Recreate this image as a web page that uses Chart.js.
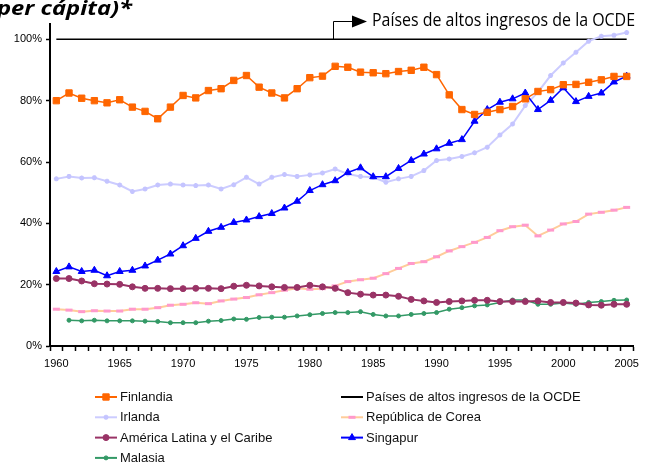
<!DOCTYPE html>
<html>
<head>
<meta charset="utf-8">
<script src="https://cdn.jsdelivr.net/npm/chart.js@4.4.1/dist/chart.umd.min.js"></script>
<style>
html, body { margin: 0; padding: 0; background: #fff; }
#wrap { width: 640px; height: 464px; }
</style>
</head>
<body>
<div id="wrap"><canvas id="grafica"></canvas></div>
<script>
// Grafica de lineas: ingreso relativo (% per capita)
var years = ['1960', '1961', '1962', '1963', '1964', '1965', '1966', '1967', '1968', '1969',
             '1970', '1971', '1972', '1973', '1974', '1975', '1976', '1977', '1978', '1979',
             '1980', '1981', '1982', '1983', '1984', '1985', '1986', '1987', '1988', '1989',
             '1990', '1991', '1992', '1993', '1994', '1995', '1996', '1997', '1998', '1999',
             '2000', '2001', '2002', '2003', '2004', '2005'];
var yearLabels = ['1960', '1965', '1970', '1975', '1980', '1985', '1990', '1995', '2000', '2005'];
var yTicks = [0, 20, 40, 60, 80, 100];

var finlandia = [80, 82.5, 80.8, 80, 79.3, 80.3, 77.9, 76.5, 74.1, 77.9,
                 81.7, 80.9, 83.3, 83.9, 86.6, 88.2, 84.4, 82.5, 80.9, 83.9,
                 87.5, 88.0, 91.2, 90.9, 89.3, 89.1, 88.8, 89.5, 89.9, 90.9,
                 88.5, 81.9, 77.1, 75.5, 76.2, 77.1, 78.1, 80.6, 83.0, 83.6,
                 85.2, 85.3, 86.0, 86.8, 87.9, 87.9];
var ocde = [100, 100, 100, 100, 100, 100, 100, 100, 100, 100,
            100, 100, 100, 100, 100, 100, 100, 100, 100, 100,
            100, 100, 100, 100, 100, 100, 100, 100, 100, 100,
            100, 100, 100, 100, 100, 100, 100, 100, 100, 100,
            100, 100, 100, 100, 100, 100];
var irlanda = [54.5, 55.3, 54.8, 54.9, 53.7, 52.5, 50.4, 51.2, 52.5, 52.8,
               52.5, 52.3, 52.5, 51.2, 52.6, 55.0, 52.8, 55.0, 55.9, 55.3,
               55.8, 56.4, 57.7, 56.1, 55.3, 55.0, 53.4, 54.5, 55.3, 57.2,
               60.5, 61.0, 61.8, 63.0, 64.8, 68.8, 72.4, 78.4, 82.8, 88.2,
               92.3, 95.8, 99.4, 101.0, 101.3, 102.2];
var corea = [12.0, 11.7, 11.2, 11.5, 11.4, 11.4, 12.0, 12.0, 12.5, 13.3,
             13.6, 14.1, 13.8, 14.7, 15.3, 15.8, 16.7, 17.4, 18.2, 18.8,
             18.5, 18.7, 19.6, 21.0, 21.6, 22.1, 23.6, 25.3, 26.9, 27.5,
             29.1, 31.0, 32.4, 33.8, 35.4, 37.6, 38.9, 39.4, 35.9, 37.8,
             39.8, 40.6, 43.0, 43.6, 44.3, 45.2];
var latam = [22.0, 22.0, 21.2, 20.3, 20.2, 20.1, 19.3, 18.8, 18.8, 18.7,
             18.7, 18.8, 18.8, 18.7, 19.5, 19.8, 19.6, 19.3, 19.1, 19.1,
             19.8, 19.3, 18.8, 17.4, 16.9, 16.6, 16.6, 16.2, 15.2, 14.7,
             14.2, 14.5, 14.7, 14.9, 14.9, 14.5, 14.5, 14.5, 14.7, 14.2,
             14.2, 14.0, 13.4, 13.3, 13.6, 13.6];
var singapur = [24.3, 25.8, 24.3, 24.7, 22.9, 24.3, 24.7, 26.1, 28.0, 30.0,
                32.7, 35.1, 37.4, 38.7, 40.3, 41.1, 42.2, 43.2, 45.0, 47.2,
                50.7, 52.6, 53.9, 56.6, 58.1, 55.2, 55.2, 57.9, 60.5, 62.6,
                64.3, 66.1, 67.3, 73.3, 77.1, 79.5, 80.6, 82.5, 77.1, 80.1,
                84.2, 79.7, 81.4, 82.5, 86.1, 88.0];
var malasia = [null, 8.4, 8.2, 8.4, 8.2, 8.2, 8.2, 8.1, 8.0, 7.6,
               7.6, 7.6, 8.1, 8.3, 8.8, 8.7, 9.3, 9.4, 9.4, 9.8,
               10.2, 10.6, 10.9, 10.9, 11.2, 10.3, 9.8, 9.8, 10.3, 10.6,
               10.9, 12.0, 12.5, 13.1, 13.4, 14.2, 15.0, 15.0, 13.6, 13.6,
               14.0, 13.6, 14.2, 14.5, 14.9, 15.0];

var legendLeft = ['Finlandia', 'Irlanda', 'América Latina y el Caribe', 'Malasia'];
var legendRight = ['Países de altos ingresos de la OCDE', 'República de Corea', 'Singapur'];

var fuente = '"Liberation Sans", Arial, sans-serif';
Chart.defaults.font.family = fuente;
Chart.defaults.color = '#000';

function textoAjustado(ctx, text, font, x, y, w) {
    ctx.save();
    ctx.font = font;
    ctx.fillStyle = '#000';
    ctx.textBaseline = 'alphabetic';
    ctx.textAlign = 'left';
    var m = ctx.measureText(text).width;
    ctx.translate(x, y);
    ctx.scale(w / m, 1);
    ctx.fillText(text, 0, 0);
    ctx.restore();
}

function marcador(ctx, ds, x, y) {
    var st = ds.pointStyle, r = ds.pointRadius;
    if (!r) return;
    ctx.save();
    ctx.fillStyle = ds.pointBackgroundColor;
    ctx.strokeStyle = ds.pointBorderColor;
    ctx.lineWidth = ds.pointBorderWidth;
    Chart.helpers.drawPoint(ctx, { pointStyle: st, radius: r, borderWidth: ds.pointBorderWidth, rotation: 0 }, x, y);
    ctx.restore();
}

var extras = {
    id: 'extras',
    afterDraw: function (chart) {
        var ctx = chart.ctx;
        var y100 = chart.scales.y.getPixelForValue(100);

        // titulo (cortado en el original)
        textoAjustado(ctx, 'per cápita)*', 'italic bold 19px "Open Sans"', -3, 14.5, 135);

        // flecha hacia la linea de la OCDE
        ctx.save();
        ctx.strokeStyle = '#000';
        ctx.fillStyle = '#000';
        ctx.lineWidth = 1;
        ctx.beginPath();
        ctx.moveTo(333.5, y100);
        ctx.lineTo(333.5, 21.5);
        ctx.lineTo(353, 21.5);
        ctx.stroke();
        ctx.beginPath();
        ctx.moveTo(352, 15.5);
        ctx.lineTo(367, 21.5);
        ctx.lineTo(352, 27.5);
        ctx.closePath();
        ctx.fill();
        ctx.restore();
        textoAjustado(ctx, 'Países de altos ingresos de la OCDE', '18px "Open Sans"', 372, 26, 263);

        // leyenda en dos columnas
        var cols = [{ x: 95, items: legendLeft }, { x: 341, items: legendRight }];
        ctx.save();
        ctx.font = '13px ' + fuente;
        ctx.textBaseline = 'middle';
        ctx.fillStyle = '#111';
        cols.forEach(function (col) {
            col.items.forEach(function (name, i) {
                var ds = chart.data.datasets.filter(function (d) { return d.label === name; })[0];
                var y = 397 + i * 20.3;
                ctx.strokeStyle = ds.borderColor;
                ctx.lineWidth = 2;
                ctx.beginPath();
                ctx.moveTo(col.x, y);
                ctx.lineTo(col.x + 22, y);
                ctx.stroke();
                marcador(ctx, ds, col.x + 11, y);
                ctx.fillStyle = '#111';
                ctx.fillText(name, col.x + 25, y + 0.5);
            });
        });
        ctx.restore();
    }
};

var GRAFICA = document.getElementById('grafica');

var grafica = new Chart(GRAFICA, {
    type: 'line',
    data: {
        labels: years,
        datasets: [{
            label: 'Finlandia',
            data: finlandia,
            borderColor: '#FF6600',
            borderWidth: 1.5,
            pointStyle: 'rect',
            pointRadius: 4.5,
            pointBackgroundColor: '#FF6600',
            pointBorderColor: '#FF6600',
            pointBorderWidth: 1
        }, {
            label: 'Singapur',
            data: singapur,
            borderColor: '#0000FF',
            borderWidth: 1.5,
            pointStyle: 'triangle',
            pointRadius: 4,
            pointBackgroundColor: '#0000FF',
            pointBorderColor: '#0000FF',
            pointBorderWidth: 1
        }, {
            label: 'Irlanda',
            data: irlanda,
            borderColor: '#CCCCFF',
            borderWidth: 2,
            pointStyle: 'star',
            pointRadius: 2.5,
            pointBackgroundColor: '#C4C4FF',
            pointBorderColor: '#C4C4FF',
            pointBorderWidth: 1.5
        }, {
            label: 'América Latina y el Caribe',
            data: latam,
            borderColor: '#993366',
            borderWidth: 2,
            pointStyle: 'circle',
            pointRadius: 3,
            pointBackgroundColor: '#993366',
            pointBorderColor: '#993366',
            pointBorderWidth: 1
        }, {
            label: 'República de Corea',
            data: corea,
            borderColor: '#FFCC99',
            borderWidth: 2,
            pointStyle: 'line',
            pointRadius: 3.5,
            pointBackgroundColor: '#FF99CC',
            pointBorderColor: '#FF99CC',
            pointBorderWidth: 3
        }, {
            label: 'Malasia',
            data: malasia,
            borderColor: '#339966',
            borderWidth: 1.5,
            pointStyle: 'circle',
            pointRadius: 2,
            pointBackgroundColor: '#339966',
            pointBorderColor: '#339966',
            pointBorderWidth: 1
        }, {
            label: 'Países de altos ingresos de la OCDE',
            data: ocde,
            borderColor: '#000000',
            borderWidth: 1.5,
            pointRadius: 0
        }]
    },
    options: {
        responsive: true,
        maintainAspectRatio: false,
        animation: false,
        events: [],
        layout: { padding: { top: 24, right: 4, left: 0, bottom: 0 } },
        plugins: {
            legend: { display: false },
            tooltip: { enabled: false },
            title: { display: false }
        },
        scales: {
            x: {
                type: 'category',
                offset: true,
                grid: { offset: true, drawOnChartArea: false, tickLength: 5, tickColor: '#000', tickWidth: 1.5 },
                border: { color: '#000', width: 2 },
                ticks: {
                    autoSkip: false,
                    maxRotation: 0,
                    padding: 6,
                    font: { size: 11 },
                    color: '#000',
                    callback: function (v, i) {
                        var lab = years[i];
                        return yearLabels.indexOf(lab) >= 0 ? lab : '';
                    }
                },
                afterFit: function (scale) {
                    scale.height = 118;
                    scale.paddingLeft = 0;
                    scale.paddingRight = 0;
                }
            },
            y: {
                min: 0,
                max: 105,
                grid: { drawOnChartArea: false, tickLength: 4, tickColor: '#000', tickWidth: 1.5 },
                border: { color: '#000', width: 2 },
                ticks: {
                    stepSize: 20,
                    padding: 4,
                    font: { size: 11 },
                    color: '#000',
                    callback: function (v) { return v + '%'; }
                },
                afterBuildTicks: function (scale) {
                    scale.ticks = scale.ticks.filter(function (t) { return yTicks.indexOf(t.value) >= 0; });
                },
                afterFit: function (scale) {
                    scale.width = 50;
                    scale.paddingTop = 0;
                    scale.paddingBottom = 0;
                }
            }
        }
    },
    plugins: [extras]
});
</script>
</body>
</html>
